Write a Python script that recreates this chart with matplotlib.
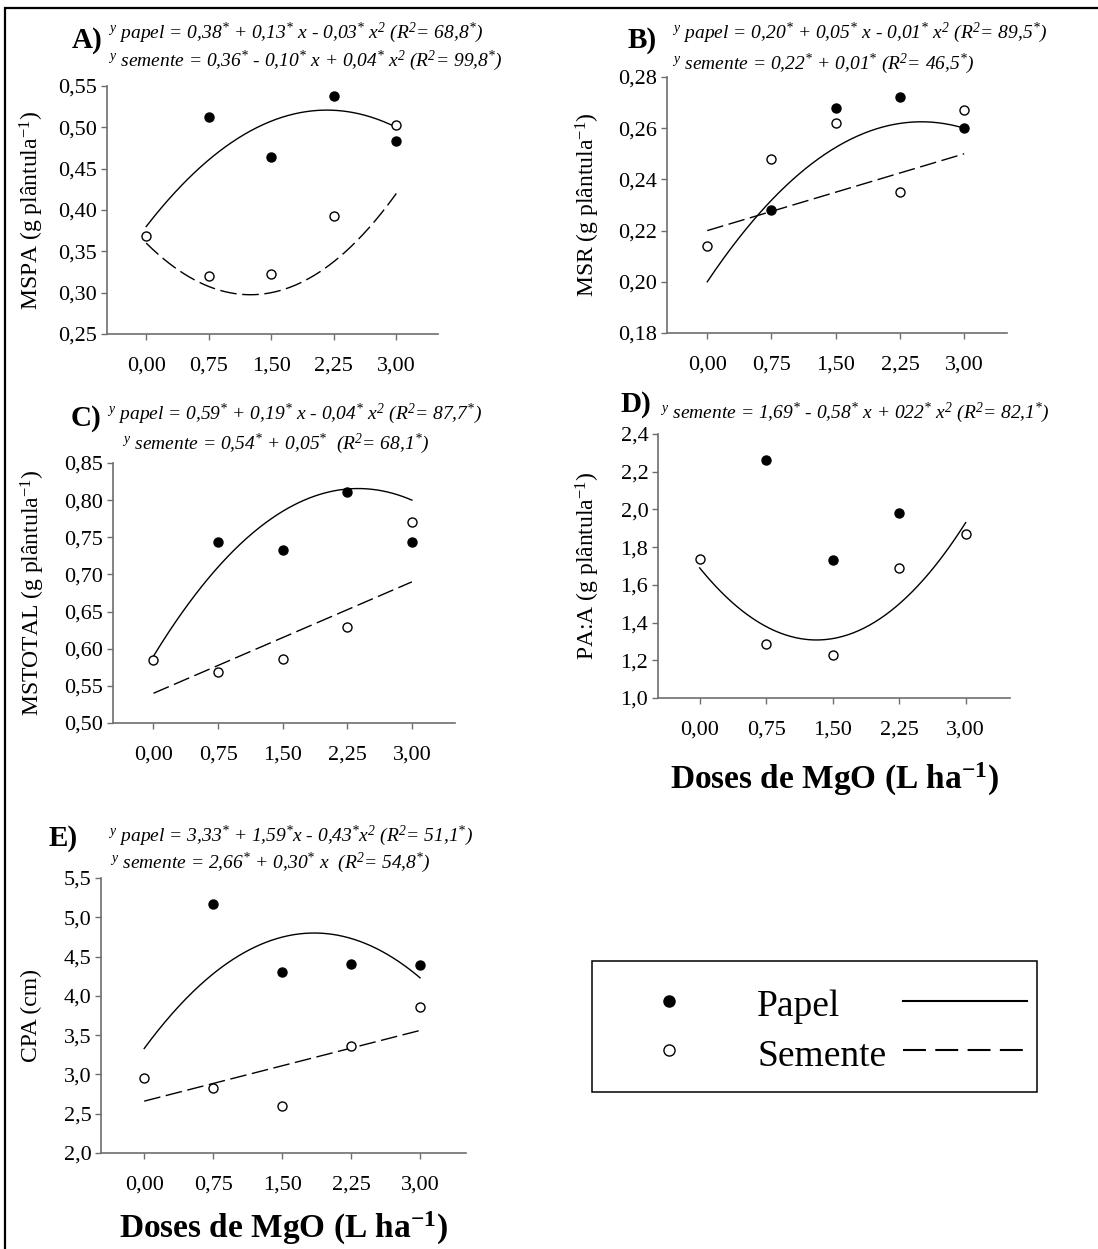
import numpy as np
import matplotlib
matplotlib.use("Agg")
import matplotlib.pyplot as plt
from matplotlib.lines import Line2D
from matplotlib.patches import Rectangle
from matplotlib.ticker import FixedLocator, FuncFormatter

plt.rcParams['font.family'] = ['Liberation Serif', 'DejaVu Serif']
plt.rcParams['mathtext.fontset'] = 'custom'
plt.rcParams['mathtext.rm'] = 'Liberation Serif'
plt.rcParams['mathtext.it'] = 'Liberation Serif:italic'
plt.rcParams['mathtext.bf'] = 'Liberation Serif:bold'
plt.rcParams['mathtext.default'] = 'regular'

# ---------------- data ----------------
doses = [0.0, 0.75, 1.5, 2.25, 3.0]
dose_labels = ['0,00', '0,75', '1,50', '2,25', '3,00']

# A) MSPA
mspa_papel_x = [0.75, 1.5, 2.25, 3.0]
mspa_papel = [0.513, 0.464, 0.538, 0.483]
mspa_semente = [0.368, 0.320, 0.323, 0.393, 0.503]
mspa_papel_coef = [0.38, 0.13, -0.03]
mspa_semente_coef = [0.36, -0.10, 0.04]
mspa_ticks = [0.25, 0.30, 0.35, 0.40, 0.45, 0.50, 0.55]

# B) MSR
msr_papel_x = [0.75, 1.5, 2.25, 3.0]
msr_papel = [0.228, 0.268, 0.272, 0.260]
msr_semente = [0.214, 0.248, 0.262, 0.235, 0.267]
msr_papel_coef = [0.20, 0.05, -0.01]
msr_semente_coef = [0.22, 0.01, 0.0]
msr_ticks = [0.18, 0.20, 0.22, 0.24, 0.26, 0.28]

# C) MSTOTAL
mst_papel_x = [0.75, 1.5, 2.25, 3.0]
mst_papel = [0.743, 0.733, 0.811, 0.744]
mst_semente = [0.585, 0.569, 0.586, 0.629, 0.771]
mst_papel_coef = [0.59, 0.19, -0.04]
mst_semente_coef = [0.54, 0.05, 0.0]
mst_ticks = [0.50, 0.55, 0.60, 0.65, 0.70, 0.75, 0.80, 0.85]

# D) PA:A
paa_papel_x = [0.75, 1.5, 2.25]
paa_papel = [2.262, 1.730, 1.980]
paa_semente = [1.739, 1.287, 1.227, 1.689, 1.870]
paa_semente_coef = [1.69, -0.58, 0.22]
paa_ticks = [1.0, 1.2, 1.4, 1.6, 1.8, 2.0, 2.2, 2.4]

# E) CPA
cpa_papel_x = [0.75, 1.5, 2.25, 3.0]
cpa_papel = [5.166, 4.302, 4.404, 4.387]
cpa_semente = [2.960, 2.829, 2.597, 3.363, 3.854]
cpa_papel_coef = [3.33, 1.59, -0.43]
cpa_semente_coef = [2.66, 0.30, 0.0]
cpa_ticks = [2.0, 2.5, 3.0, 3.5, 4.0, 4.5, 5.0, 5.5]

eq_A = [r"$^{y}$ papel = 0,38$^{*}$ + 0,13$^{*}$ x - 0,03$^{*}$ x$^{2}$ (R$^{2}$= 68,8$^{*}$)",
        r"$^{y}$ semente = 0,36$^{*}$ - 0,10$^{*}$ x + 0,04$^{*}$ x$^{2}$ (R$^{2}$= 99,8$^{*}$)"]
eq_B = [r"$^{y}$ papel = 0,20$^{*}$ + 0,05$^{*}$ x - 0,01$^{*}$ x$^{2}$ (R$^{2}$= 89,5$^{*}$)",
        r"$^{y}$ semente = 0,22$^{*}$ + 0,01$^{*}$ (R$^{2}$= 46,5$^{*}$)"]
eq_C = [r"$^{y}$ papel = 0,59$^{*}$ + 0,19$^{*}$ x - 0,04$^{*}$ x$^{2}$ (R$^{2}$= 87,7$^{*}$)",
        r"$^{y}$ semente = 0,54$^{*}$ + 0,05$^{*}$  (R$^{2}$= 68,1$^{*}$)"]
eq_D = [r"$^{y}$ semente = 1,69$^{*}$ - 0,58$^{*}$ x + 022$^{*}$ x$^{2}$ (R$^{2}$= 82,1$^{*}$)"]
eq_E = [r"$^{y}$ papel = 3,33$^{*}$ + 1,59$^{*}$x - 0,43$^{*}$x$^{2}$ (R$^{2}$= 51,1$^{*}$)",
        r"$^{y}$ semente = 2,66$^{*}$ + 0,30$^{*}$ x  (R$^{2}$= 54,8$^{*}$)"]

legend_labels = ['Papel', 'Semente']

# ---------------- layout ----------------
W, H = 1098, 1249
fig = plt.figure(figsize=(W / 100, H / 100), dpi=100)
GRAY = '#6e6e6e'
XLIM = (-0.47, 3.5)


def px_rect(l, t, r, b):
    return [l / W, 1 - b / H, (r - l) / W, (b - t) / H]


def fx(x):
    return x / W


def fy(y):
    return 1 - y / H


def poly(c, x):
    return c[0] + c[1] * x + c[2] * x ** 2


xfit = np.linspace(0, 3, 200)


def make_panel(rect, ylim, yticks, ydec, ylabel, ylab_right, pap_x, pap_y, sem_y,
               pap_coef, sem_coef, sem_solid=False):
    l, t, r, b = rect
    ax = fig.add_axes(px_rect(l, t, r, b))
    ax.set_xlim(*XLIM)
    ax.set_ylim(*ylim)
    for s in ['top', 'right']:
        ax.spines[s].set_visible(False)
    for s in ['left', 'bottom']:
        ax.spines[s].set_color(GRAY)
        ax.spines[s].set_linewidth(1.2)
    ax.xaxis.set_major_locator(FixedLocator(doses))
    ax.set_xticklabels(dose_labels)
    ax.yaxis.set_major_locator(FixedLocator(yticks))
    ax.yaxis.set_major_formatter(FuncFormatter(lambda v, p: f"{v:.{ydec}f}".replace('.', ',')))
    ax.tick_params(axis='x', direction='out', length=4, width=1, color=GRAY, pad=12, labelsize=16)
    ax.tick_params(axis='y', direction='out', length=4, width=1, color=GRAY, pad=3, labelsize=16)
    ax.set_ylabel(ylabel, fontsize=17)
    ax.yaxis.set_label_coords((ylab_right - l) / (r - l), 0.5)
    if pap_coef is not None:
        ax.plot(xfit, poly(pap_coef, xfit), color='black', lw=1.0)
    if sem_coef is not None:
        if sem_solid:
            ax.plot(xfit, poly(sem_coef, xfit), color='black', lw=1.0)
        else:
            ax.plot(xfit, poly(sem_coef, xfit), color='black', lw=1.0, dashes=(12, 4))
    ax.plot(pap_x, pap_y, 'o', ms=6.5, color='black', clip_on=False, zorder=5)
    ax.plot(doses, sem_y, 'o', ms=6.5, mfc='white', mec='black', mew=1.0, clip_on=False, zorder=5)
    return ax


axA = make_panel((107, 86, 438, 334), (0.25, 0.55), mspa_ticks, 2,
                 r"MSPA (g plântula$^{-1}$)", 46, mspa_papel_x, mspa_papel, mspa_semente,
                 mspa_papel_coef, mspa_semente_coef)
axB = make_panel((667, 77, 1007, 333), (0.18, 0.28), msr_ticks, 2,
                 r"MSR (g plântula$^{-1}$)", 602, msr_papel_x, msr_papel, msr_semente,
                 msr_papel_coef, msr_semente_coef)
axC = make_panel((113, 463, 455, 723), (0.50, 0.85), mst_ticks, 2,
                 r"MSTOTAL (g plântula$^{-1}$)", 47, mst_papel_x, mst_papel, mst_semente,
                 mst_papel_coef, mst_semente_coef)
axD = make_panel((658, 434, 1010, 698), (1.0, 2.4), paa_ticks, 1,
                 r"PA:A (g plântula$^{-1}$)", 602, paa_papel_x, paa_papel, paa_semente,
                 None, paa_semente_coef, sem_solid=True)
axE = make_panel((101, 878, 466, 1153), (2.0, 5.5), cpa_ticks, 1,
                 r"CPA (cm)", 42, cpa_papel_x, cpa_papel, cpa_semente,
                 cpa_papel_coef, cpa_semente_coef)

xlab = r"Doses de MgO (L ha$^{-1}$)"
for ax, (t, b), off in [(axD, (434, 698), 63), (axE, (878, 1153), 57)]:
    ax.set_xlabel(xlab, fontsize=24, fontweight='bold')
    ax.xaxis.set_label_coords(0.5, -off / (b - t))

# panel letters and equations
EQ_FS = 14


def put_eqs(letter, lpos, eqs, eqpos):
    fig.text(fx(lpos[0]), fy(lpos[1]), letter, fontsize=21, fontweight='bold',
             ha='center', va='center')
    for s, (x, y) in zip(eqs, eqpos):
        fig.text(fx(x), fy(y + 6), s, fontsize=EQ_FS, style='italic', ha='left', va='baseline')


put_eqs('A)', (87, 41), eq_A, [(108, 32), (108, 60)])
put_eqs('B)', (642, 41), eq_B, [(672, 32), (672, 63)])
put_eqs('C)', (86, 418), eq_C, [(107, 413), (122, 443)])
put_eqs('D)', (636, 405), eq_D, [(660, 412)])
put_eqs('E)', (63, 838), eq_E, [(108, 835), (110, 862)])

# legend
h1 = Line2D([], [], ls='none', marker='o', ms=8, color='black')
h2 = Line2D([], [], ls='none', marker='o', ms=8, mfc='white', mec='black', mew=1.0)
h3 = Line2D([], [], color='black', lw=1.5)
h4 = Line2D([], [], color='black', lw=1.5, dashes=(11, 4.5))
leg = fig.legend([h1, h2, h3, h4], legend_labels + ['', ''], ncol=2,
                 loc='upper left', bbox_to_anchor=(fx(592), fy(970)),
                 fontsize=27, frameon=False, handlelength=3.3, handletextpad=0.7,
                 columnspacing=0.45, labelspacing=0.27, borderpad=0.4,
                 handleheight=1.15, borderaxespad=0)
# legend box
fig.add_artist(Rectangle((fx(592), fy(1092)), fx(1037) - fx(592), fy(961) - fy(1092),
                         transform=fig.transFigure, fill=False, lw=1.1, edgecolor='black'))

# outer frame
fig.add_artist(Rectangle((fx(5), -0.1), 1.2, fy(8) + 0.1, transform=fig.transFigure,
                         fill=False, lw=1.6, edgecolor='black'))

fig.savefig('out.png', dpi=100)
